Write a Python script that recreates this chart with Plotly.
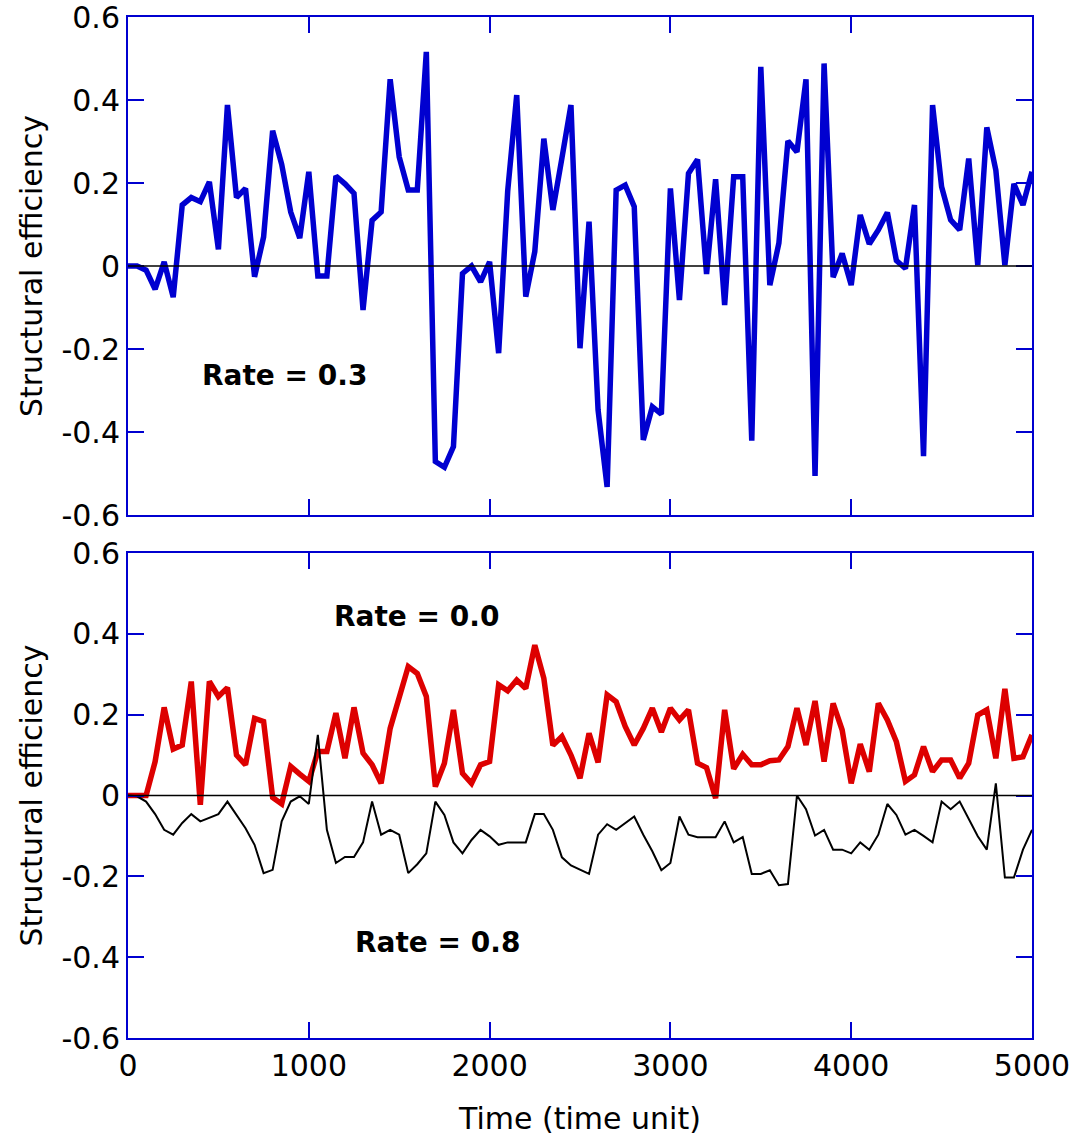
import plotly.graph_objects as go

time = list(range(0, 5001, 50))

rate_03 = [0.0, 0.0, -0.01, -0.056, 0.01, -0.075, 0.147, 0.165, 0.155, 0.203,
           0.04, 0.388, 0.165, 0.187, -0.026, 0.07, 0.326, 0.245, 0.13, 0.067,
           0.227, -0.024, -0.024, 0.217, 0.198, 0.175, -0.106, 0.11, 0.13, 0.45,
           0.263, 0.183, 0.183, 0.516, -0.471, -0.485, -0.435, -0.018, 0.0, -0.038,
           0.01, -0.21, 0.18, 0.412, -0.074, 0.035, 0.307, 0.135, 0.26, 0.388,
           -0.198, 0.107, -0.347, -0.532, 0.183, 0.195, 0.143, -0.419, -0.339, -0.357,
           0.187, -0.082, 0.223, 0.257, -0.019, 0.209, -0.094, 0.215, 0.215, -0.421,
           0.48, -0.046, 0.055, 0.301, 0.275, 0.45, -0.506, 0.488, -0.027, 0.03,
           -0.046, 0.123, 0.053, 0.087, 0.129, 0.013, -0.006, 0.147, -0.458, 0.388,
           0.191, 0.111, 0.087, 0.259, 0.002, 0.334, 0.231, 0.002, 0.198, 0.147,
           0.227]

rate_00 = [0.0, 0.0, 0.0, 0.084, 0.218, 0.115, 0.125, 0.282, -0.023, 0.282,
           0.245, 0.267, 0.1, 0.076, 0.191, 0.183, -0.005, -0.021, 0.072, 0.053,
           0.035, 0.109, 0.109, 0.204, 0.092, 0.218, 0.105, 0.076, 0.03, 0.166,
           0.241, 0.319, 0.302, 0.245, 0.022, 0.08, 0.212, 0.055, 0.03, 0.076,
           0.084, 0.274, 0.259, 0.286, 0.265, 0.372, 0.29, 0.124, 0.146, 0.1,
           0.043, 0.154, 0.082, 0.249, 0.232, 0.171, 0.125, 0.166, 0.216, 0.157,
           0.216, 0.187, 0.212, 0.08, 0.069, -0.007, 0.212, 0.066, 0.102, 0.076,
           0.076, 0.086, 0.088, 0.121, 0.216, 0.125, 0.234, 0.084, 0.228, 0.162,
           0.03, 0.127, 0.059, 0.228, 0.187, 0.133, 0.035, 0.051, 0.121, 0.059,
           0.088, 0.088, 0.043, 0.08, 0.199, 0.212, 0.092, 0.264, 0.092, 0.096,
           0.15]

rate_08 = [0.0, -0.002, -0.015, -0.046, -0.085, -0.097, -0.068, -0.046, -0.064, -0.054,
           -0.046, -0.015, -0.048, -0.081, -0.122, -0.192, -0.184, -0.064, -0.015, -0.002,
           -0.021, 0.15, -0.085, -0.167, -0.152, -0.152, -0.116, -0.015, -0.097, -0.085,
           -0.097, -0.192, -0.17, -0.143, -0.015, -0.048, -0.116, -0.143, -0.11, -0.085,
           -0.101, -0.122, -0.116, -0.116, -0.116, -0.046, -0.046, -0.085, -0.153, -0.173,
           -0.184, -0.194, -0.097, -0.071, -0.085, -0.068, -0.052, -0.097, -0.138, -0.185,
           -0.167, -0.052, -0.097, -0.103, -0.103, -0.103, -0.064, -0.116, -0.103, -0.194,
           -0.194, -0.185, -0.222, -0.219, 0.0, -0.034, -0.099, -0.085, -0.134, -0.134,
           -0.143, -0.116, -0.134, -0.097, -0.021, -0.048, -0.097, -0.085, -0.1, -0.116,
           -0.015, -0.034, -0.015, -0.06, -0.101, -0.134, 0.03, -0.203, -0.203, -0.134,
           -0.085]

y_tickvals = [-0.6, -0.4, -0.2, 0, 0.2, 0.4, 0.6]
y_ticktext = ["-0.6", "-0.4", "-0.2", "0", "0.2", "0.4", "0.6"]
x_tickvals = [0, 1000, 2000, 3000, 4000, 5000]
x_ticktext = ["0", "1000", "2000", "3000", "4000", "5000"]

BLUE = "#0000D0"
RED = "#DD0000"
FONT = "DejaVu Sans"

fig = go.Figure()
fig.add_trace(go.Scatter(x=time, y=rate_03, mode="lines", xaxis="x", yaxis="y",
                         line=dict(color=BLUE, width=5.5), showlegend=False))
fig.add_trace(go.Scatter(x=time, y=rate_00, mode="lines", xaxis="x2", yaxis="y2",
                         line=dict(color=RED, width=5.5), showlegend=False))
fig.add_trace(go.Scatter(x=time, y=rate_08, mode="lines", xaxis="x2", yaxis="y2",
                         line=dict(color="black", width=2), showlegend=False))

axis_common = dict(showline=True, linecolor=BLUE, linewidth=2, mirror="ticks",
                   ticks="inside", ticklen=16, tickwidth=2, tickcolor=BLUE,
                   showgrid=False, zeroline=False, automargin=False,
                   ticklabeloverflow="allow",
                   tickfont=dict(family=FONT, size=30, color="black"))

fig.update_layout(
    width=1074, height=1137,
    margin=dict(l=128, r=42, t=17, b=99),
    paper_bgcolor="white", plot_bgcolor="white",
    font=dict(family=FONT, size=30, color="black"),
    xaxis=dict(domain=[0, 1], anchor="y", range=[0, 5000], tickvals=x_tickvals,
               showticklabels=False, **axis_common),
    yaxis=dict(domain=[0.5122, 1], anchor="x", range=[-0.6, 0.6], tickvals=y_tickvals,
               ticktext=y_ticktext,
               title=dict(text="Structural efficiency", font=dict(family=FONT, size=30, color="black"), standoff=10),
               **axis_common),
    xaxis2=dict(domain=[0, 1], anchor="y2", range=[0, 5000], tickvals=x_tickvals,
                ticktext=x_ticktext,
                title=dict(text="Time (time unit)", font=dict(family=FONT, size=30, color="black"), standoff=26),
                **axis_common),
    yaxis2=dict(domain=[0, 0.475], anchor="x2", range=[-0.6, 0.6], tickvals=y_tickvals,
                ticktext=y_ticktext,
                title=dict(text="Structural efficiency", font=dict(family=FONT, size=30, color="black"), standoff=10),
                **axis_common),
    shapes=[
        dict(type="line", xref="x domain", yref="y", x0=0, x1=1, y0=0, y1=0,
             line=dict(color="black", width=1.5), layer="above"),
        dict(type="line", xref="x2 domain", yref="y2", x0=0, x1=1, y0=0, y1=0,
             line=dict(color="black", width=1.5), layer="above"),
    ],
    annotations=[
        dict(text="<b>Rate = 0.3</b>", x=863, y=-0.263, xref="x", yref="y", showarrow=False,
             font=dict(family=FONT, size=28, color="black")),
        dict(text="<b>Rate = 0.0</b>", x=1598, y=0.444, xref="x2", yref="y2", showarrow=False,
             font=dict(family=FONT, size=28, color="black")),
        dict(text="<b>Rate = 0.8</b>", x=1714, y=-0.364, xref="x2", yref="y2", showarrow=False,
             font=dict(family=FONT, size=28, color="black")),
    ],
)

fig.write_html("out.html",
               config={"displayModeBar": False},
               post_script="document.body.style.margin='0';document.body.style.overflow='hidden';")
